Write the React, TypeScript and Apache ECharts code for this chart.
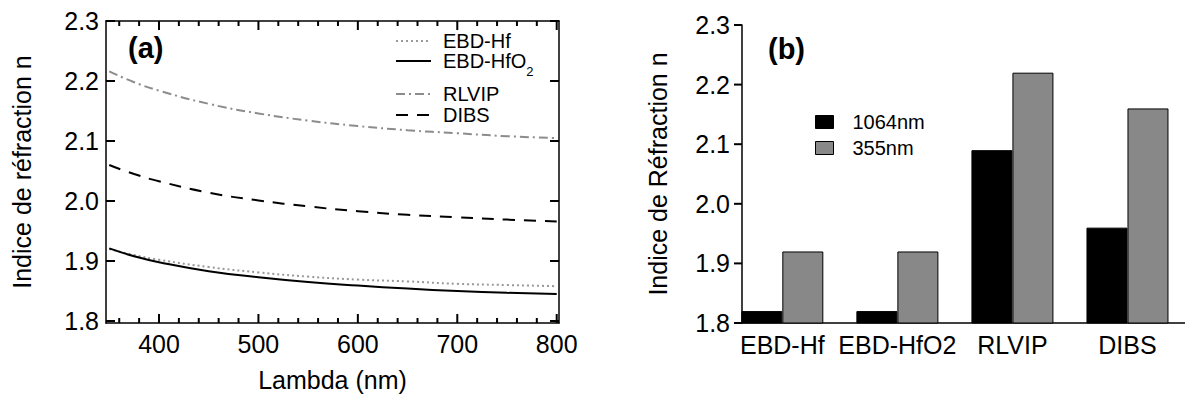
import React, { useEffect, useRef } from "react";
import * as echarts from "echarts";

const wavelengths = [350, 375, 400, 450, 500, 550, 600, 650, 700, 750, 800];
const ebdHf = [1.92, 1.91, 1.902, 1.89, 1.881, 1.874, 1.869, 1.866, 1.862, 1.86, 1.858];
const ebdHfO2 = [1.921, 1.908, 1.898, 1.883, 1.873, 1.865, 1.859, 1.854, 1.85, 1.847, 1.845];
const rlvip = [2.216, 2.198, 2.184, 2.162, 2.146, 2.134, 2.125, 2.118, 2.113, 2.108, 2.105];
const dibs = [2.06, 2.045, 2.033, 2.014, 2.001, 1.991, 1.983, 1.977, 1.973, 1.969, 1.966];

const materials = ["EBD-Hf", "EBD-HfO2", "RLVIP", "DIBS"];
const n1064 = [1.82, 1.82, 2.09, 1.96];
const n355 = [1.92, 1.92, 2.22, 2.16];

const majorX = [400, 500, 600, 700, 800];
const minorX = [360, 380, 420, 440, 460, 480, 520, 540, 560, 580, 620, 640, 660, 680, 720, 740, 760, 780];
const majorY = [1.8, 1.9, 2.0, 2.1, 2.2, 2.3];

const FONT = "Liberation Sans, Arial, Helvetica, sans-serif";
const AX = 25;

const pairs = (ys: number[]) => wavelengths.map((x, i) => [x, ys[i]]);
const tenth = (v: number) =>
  Math.abs(v * 10 - Math.round(v * 10)) < 1e-6 ? v.toFixed(1) : "";

export default function App() {
  const ref = useRef<HTMLDivElement>(null);
  useEffect(() => {
    document.body.style.margin = "0";
    const chart = echarts.init(ref.current!, null, { renderer: "svg" });
    const lineAx = () => ({ show: true, lineStyle: { color: "#000", width: 1.5 } });
    const xMin = 346.7;
    const xMax = 802.3;
    const yMinL = 1.7967;
    const yMax = 2.3;
    const hiddenSymbol = { color: "rgba(0,0,0,0)", borderWidth: 0, opacity: 0 };
    const tickStyle = { stroke: "#000", lineWidth: 2 };
    const seg = (x1: number, y1: number, x2: number, y2: number) => ({
      type: "line",
      shape: { x1, y1, x2, y2 },
      style: tickStyle,
    });
    const xTicks = (len: number) => (params: any, api: any) => {
      const v = api.value(0);
      const b = api.coord([v, yMinL]);
      const t = api.coord([v, yMax]);
      return { type: "group", children: [seg(b[0], b[1], b[0], b[1] - len), seg(t[0], t[1], t[0], t[1] + len)] };
    };
    const yTicks = (params: any, api: any) => {
      const v = api.value(1);
      const l = api.coord([xMin, v]);
      const r = api.coord([xMax, v]);
      return { type: "group", children: [seg(l[0], l[1], l[0] + 9, l[1]), seg(r[0], r[1], r[0] - 9, r[1])] };
    };
    const yTicksBars = (params: any, api: any) => {
      const p = api.coord([0, api.value(1)]);
      return { type: "group", children: [seg(p[0] - 8, p[1], p[0], p[1])] };
    };
    const noTick = { show: false };
    chart.setOption({
      animation: false,
      backgroundColor: "#fff",
      textStyle: { fontFamily: FONT },
      title: [
        { text: "(a)", left: 128, top: 33, padding: 0, textStyle: { fontSize: 29, fontWeight: "bold", color: "#000", fontFamily: FONT } },
        { text: "(b)", left: 768, top: 34, padding: 0, textStyle: { fontSize: 29, fontWeight: "bold", color: "#000", fontFamily: FONT } },
      ],
      legend: [
        {
          data: ["EBD-Hf", "EBD-HfO2"],
          orient: "vertical",
          left: 395,
          top: 31,
          padding: 0,
          itemGap: 0,
          itemWidth: 35,
          itemHeight: 14,
          itemStyle: hiddenSymbol,
          formatter: (n: string) => (n === "EBD-HfO2" ? "EBD-HfO{sub|2}" : n),
          textStyle: {
            fontSize: 20,
            color: "#000",
            fontFamily: FONT,
            padding: [0, 0, 0, 7],
            rich: { sub: { fontSize: 13, padding: [20, 0, 0, 0], fontFamily: FONT, color: "#000" } },
          },
        },
        {
          data: ["RLVIP", "DIBS"],
          orient: "vertical",
          left: 395,
          top: 84,
          padding: 0,
          itemGap: 1,
          itemWidth: 35,
          itemHeight: 14,
          itemStyle: hiddenSymbol,
          textStyle: { fontSize: 20, color: "#000", fontFamily: FONT, padding: [0, 0, 0, 7] },
        },
        {
          data: ["1064nm", "355nm"],
          orient: "vertical",
          left: 815,
          top: 112,
          padding: 0,
          itemGap: 6,
          itemWidth: 18,
          itemHeight: 13,
          icon: "rect",
          itemStyle: { borderColor: "#000", borderWidth: 1 },
          textStyle: { fontSize: 20, color: "#000", fontFamily: FONT, padding: [0, 0, 0, 14] },
        },
      ],
      grid: [
        { left: 106, top: 21, right: 626, bottom: 75 },
        { left: 742, top: 25, right: -30, bottom: 75 },
        { left: 724.8, top: 25, right: -29.5, bottom: 75 },
      ],
      xAxis: [
        {
          gridIndex: 0,
          type: "value",
          position: "bottom",
          min: xMin,
          max: xMax,
          minInterval: 100,
          maxInterval: 100,
          splitNumber: 5,
          axisLine: lineAx(),
          axisTick: noTick,
          splitLine: { show: false },
          axisLabel: {
            fontSize: AX,
            color: "#000",
            margin: 8,
            fontFamily: FONT,
            formatter: (v: number) => (Math.abs(v % 100) < 1e-6 ? String(v) : ""),
          },
          name: "Lambda (nm)",
          nameLocation: "middle",
          nameGap: 44,
          nameTextStyle: { fontSize: AX, color: "#000", fontFamily: FONT },
        },
        {
          gridIndex: 0,
          type: "value",
          position: "top",
          min: xMin,
          max: xMax,
          axisLine: lineAx(),
          axisTick: noTick,
          axisLabel: { show: false },
          splitLine: { show: false },
        },
        {
          gridIndex: 1,
          type: "value",
          min: 0,
          max: 1,
          axisLine: lineAx(),
          axisTick: noTick,
          axisLabel: { show: false },
          splitLine: { show: false },
        },
        {
          gridIndex: 2,
          type: "category",
          data: materials,
          axisLine: { show: false },
          axisTick: noTick,
          axisLabel: { fontSize: AX, color: "#000", margin: 9, fontFamily: FONT, interval: 0 },
        },
      ],
      yAxis: [
        {
          gridIndex: 0,
          type: "value",
          position: "left",
          min: yMinL,
          max: yMax,
          minInterval: 0.1,
          maxInterval: 0.1,
          splitNumber: 5,
          axisLine: lineAx(),
          axisTick: noTick,
          axisLabel: { fontSize: AX, color: "#000", margin: 7, fontFamily: FONT, formatter: tenth },
          splitLine: { show: false },
          name: "Indice de réfraction n",
          nameLocation: "middle",
          nameGap: 72,
          nameTextStyle: { fontSize: AX, color: "#000", fontFamily: FONT },
        },
        {
          gridIndex: 0,
          type: "value",
          position: "right",
          min: yMinL,
          max: yMax,
          axisLine: lineAx(),
          axisTick: noTick,
          axisLabel: { show: false },
          splitLine: { show: false },
        },
        {
          gridIndex: 1,
          type: "value",
          min: 1.8,
          max: yMax,
          show: false,
          splitLine: { show: false },
        },
        {
          gridIndex: 2,
          type: "value",
          position: "left",
          offset: -17.2,
          min: 1.8,
          max: yMax,
          minInterval: 0.1,
          maxInterval: 0.1,
          splitNumber: 5,
          axisLine: lineAx(),
          axisTick: noTick,
          axisLabel: { fontSize: AX, color: "#000", margin: 12, fontFamily: FONT, formatter: tenth },
          splitLine: { show: false },
          name: "Indice de Réfraction n",
          nameLocation: "middle",
          nameGap: 72,
          nameTextStyle: { fontSize: AX, color: "#000", fontFamily: FONT },
        },
      ],
      series: [
        {
          name: "EBD-Hf",
          type: "line",
          xAxisIndex: 0,
          yAxisIndex: 0,
          data: pairs(ebdHf),
          smooth: true,
          symbol: "none",
          lineStyle: { color: "#999", width: 2, type: [2, 3] },
          itemStyle: { color: "#999" },
        },
        {
          name: "EBD-HfO2",
          type: "line",
          xAxisIndex: 0,
          yAxisIndex: 0,
          data: pairs(ebdHfO2),
          smooth: true,
          symbol: "none",
          lineStyle: { color: "#000", width: 2, type: "solid" },
          itemStyle: { color: "#000" },
        },
        {
          name: "RLVIP",
          type: "line",
          xAxisIndex: 0,
          yAxisIndex: 0,
          data: pairs(rlvip),
          smooth: true,
          symbol: "none",
          lineStyle: { color: "#8c8c8c", width: 2, type: [9, 4, 2, 4] },
          itemStyle: { color: "#8c8c8c" },
        },
        {
          name: "DIBS",
          type: "line",
          xAxisIndex: 0,
          yAxisIndex: 0,
          data: pairs(dibs),
          smooth: true,
          symbol: "none",
          lineStyle: { color: "#000", width: 2, type: [12, 9] },
          itemStyle: { color: "#000" },
        },
        {
          name: "1064nm",
          type: "bar",
          xAxisIndex: 3,
          yAxisIndex: 3,
          data: n1064,
          barWidth: 41,
          barGap: "0%",
          itemStyle: { color: "#000", borderColor: "#000", borderWidth: 1 },
        },
        {
          name: "355nm",
          type: "bar",
          xAxisIndex: 3,
          yAxisIndex: 3,
          data: n355,
          barWidth: 41,
          barGap: "0%",
          itemStyle: { color: "#888", borderColor: "#000", borderWidth: 1 },
        },
        {
          type: "custom",
          silent: true,
          clip: false,
          z: 10,
          xAxisIndex: 0,
          yAxisIndex: 0,
          data: majorX.map((v) => [v, yMinL]),
          renderItem: xTicks(9),
        },
        {
          type: "custom",
          silent: true,
          clip: false,
          z: 10,
          xAxisIndex: 0,
          yAxisIndex: 0,
          data: minorX.map((v) => [v, yMinL]),
          renderItem: xTicks(5),
        },
        {
          type: "custom",
          silent: true,
          clip: false,
          z: 10,
          xAxisIndex: 0,
          yAxisIndex: 0,
          data: majorY.map((v) => [xMin, v]),
          renderItem: yTicks,
        },
        {
          type: "custom",
          silent: true,
          clip: false,
          z: 10,
          xAxisIndex: 2,
          yAxisIndex: 2,
          data: majorY.map((v) => [0, v]),
          renderItem: yTicksBars,
        },
      ],
    });
    return () => chart.dispose();
  }, []);
  return <div ref={ref} style={{ width: 1185, height: 398, overflow: "hidden" }} />;
}
